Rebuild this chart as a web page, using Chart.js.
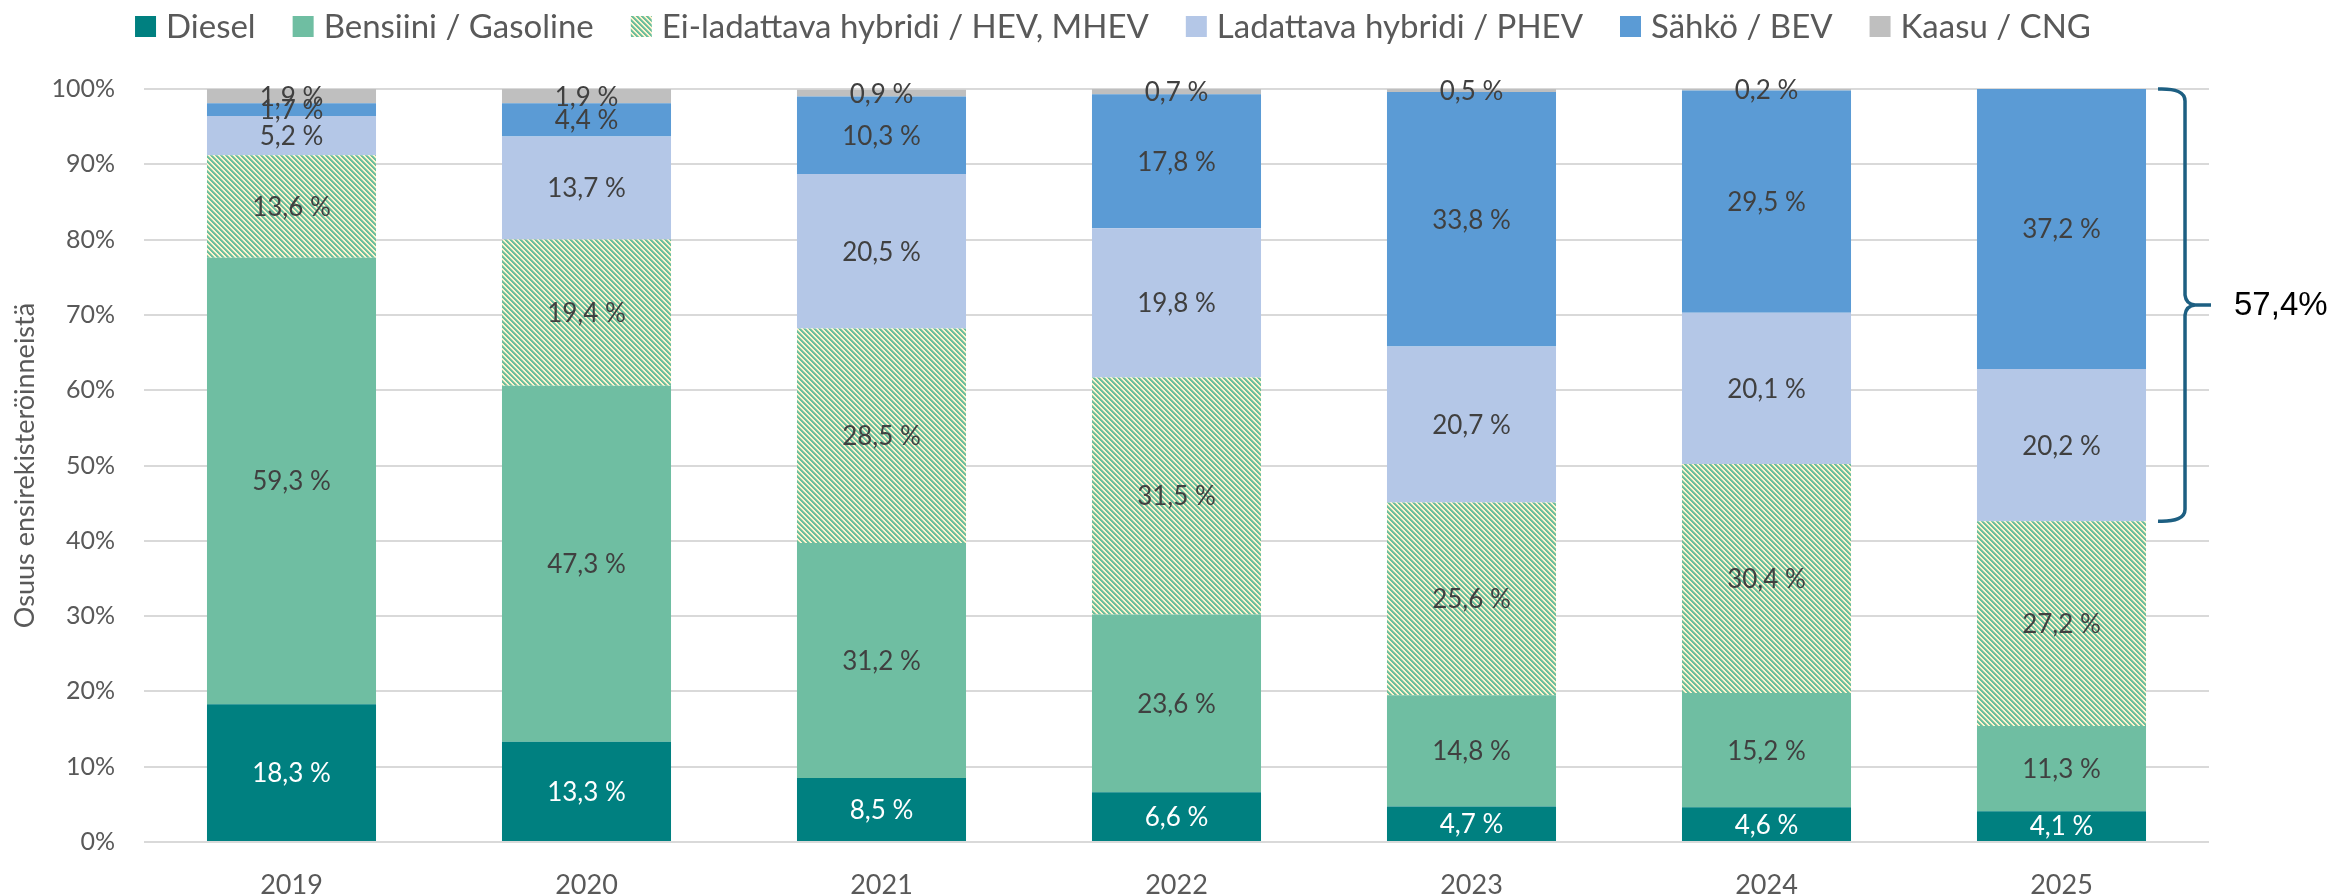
<!DOCTYPE html>
<html>
<head>
<meta charset="utf-8">
<script src="https://cdn.jsdelivr.net/npm/chart.js@4.4.1/dist/chart.umd.min.js"></script>
<style>
  html, body { margin: 0; padding: 0; background: #fff; }
  #wrap { width: 2341px; height: 896px; }
</style>
</head>
<body>
<div id="wrap"><canvas id="chart" width="2341" height="896"></canvas></div>
<script>
// Data
const years = ['2019', '2020', '2021', '2022', '2023', '2024', '2025'];
const diesel = [18.3, 13.3, 8.5, 6.6, 4.7, 4.6, 4.1];
const bensiini = [59.3, 47.3, 31.2, 23.6, 14.8, 15.2, 11.3];
const hev = [13.6, 19.4, 28.5, 31.5, 25.6, 30.4, 27.2];
const phev = [5.2, 13.7, 20.5, 19.8, 20.7, 20.1, 20.2];
const bev = [1.7, 4.4, 10.3, 17.8, 33.8, 29.5, 37.2];
const cng = [1.9, 1.9, 0.9, 0.7, 0.5, 0.2, 0];
const seriesNames = [
    'Diesel',
    'Bensiini / Gasoline',
    'Ei-ladattava hybridi / HEV, MHEV',
    'Ladattava hybridi / PHEV',
    'Sähkö / BEV',
    'Kaasu / CNG'
];
const yAxisTitle = 'Osuus ensirekisteröinneistä';
// bracket on the last year: PHEV + BEV
const bracketShare = phev[phev.length - 1] + bev[bev.length - 1];

Chart.defaults.font.family = 'Lato';

const canvas = document.getElementById('chart');
const ctx = canvas.getContext('2d');

// hatched fill for the non-plug-in hybrids
function makeHatch() {
    const n = 5;
    const tile = document.createElement('canvas');
    tile.width = n;
    tile.height = n;
    const g = tile.getContext('2d');
    g.fillStyle = '#FFF2CC';
    g.fillRect(0, 0, n, n);
    for (let y = 0; y < n; y++) {
        for (let x = 0; x < n; x++) {
            const k = ((x - y) % n + n) % n;
            if (k < 2) {
                g.fillStyle = '#6BBE9C';
                g.fillRect(x, y, 1, 1);
            } else if (k === 2) {
                g.fillStyle = '#8FCDAA';
                g.fillRect(x, y, 1, 1);
            }
        }
    }
    return ctx.createPattern(tile, 'repeat');
}

const colors = ['#008080', '#6FBEA2', makeHatch(), '#B4C7E7', '#5B9BD5', '#BFBFBF'];
const labelColors = ['#FFFFFF', '#404040', '#404040', '#404040', '#404040', '#404040'];
const values = [diesel, bensiini, hev, phev, bev, cng];

function fmt(v) {
    return v.toFixed(1).replace('.', ',');
}

// legend drawn along the top
const topLegend = {
    id: 'topLegend',
    afterDraw(chart) {
        const c = chart.ctx;
        c.save();
        c.font = '33px Lato';
        c.textBaseline = 'middle';
        c.textAlign = 'left';
        const box = 21, gap = 10, spacing = 37;
        const items = chart.data.datasets.map(ds => ({
            text: ds.label,
            fill: ds.backgroundColor,
            w: c.measureText(ds.label).width
        }));
        const total = items.reduce((s, it) => s + box + gap + it.w, 0) + spacing * (items.length - 1);
        let x = 1113 - total / 2;
        items.forEach(it => {
            c.fillStyle = it.fill;
            c.fillRect(x, 16, box, box);
            c.fillStyle = '#595959';
            c.fillText(it.text, x + box + gap, 27);
            x += box + gap + it.w + spacing;
        });
        c.restore();
    }
};

// value labels centred in each segment
const segmentLabels = {
    id: 'segmentLabels',
    afterDatasetsDraw(chart) {
        const c = chart.ctx;
        c.save();
        c.font = '26px Lato';
        c.textAlign = 'center';
        c.textBaseline = 'middle';
        chart.data.datasets.forEach((ds, i) => {
            const meta = chart.getDatasetMeta(i);
            meta.data.forEach((bar, j) => {
                const v = ds.data[j];
                if (!v) return;
                c.fillStyle = labelColors[i];
                c.fillText(fmt(v) + ' %', bar.x, (bar.y + bar.base) / 2 + 1);
            });
        });
        c.restore();
    }
};

// curly bracket over the plug-in share of the last year
const bracket = {
    id: 'bracket',
    afterDatasetsDraw(chart) {
        const c = chart.ctx;
        const yScale = chart.scales.y;
        const last = years.length - 1;
        const bar = chart.getDatasetMeta(0).data[last];
        const top = yScale.getPixelForValue(100);
        const bottom = yScale.getPixelForValue(100 - bracketShare);
        const mid = (top + bottom) / 2;
        const x0 = bar.x + bar.width / 2 + 12;
        const x1 = x0 + 27;
        const x2 = x1 + 26;

        c.save();
        c.strokeStyle = '#1D5F82';
        c.lineWidth = 3.5;
        c.lineJoin = 'round';
        c.beginPath();
        c.moveTo(x0, top);
        c.quadraticCurveTo(x1, top - 1, x1, top + 12);
        c.lineTo(x1, mid - 10);
        c.quadraticCurveTo(x1 + 1, mid - 1, x1 + 10, mid);
        c.lineTo(x2, mid);
        c.moveTo(x1 + 10, mid);
        c.quadraticCurveTo(x1 + 1, mid + 1, x1, mid + 10);
        c.lineTo(x1, bottom - 12);
        c.quadraticCurveTo(x1, bottom + 1, x0, bottom);
        c.stroke();

        c.fillStyle = '#000000';
        c.font = '33px "Liberation Sans", Arial, sans-serif';
        c.textAlign = 'left';
        c.textBaseline = 'middle';
        c.fillText(fmt(bracketShare) + '%', x2 + 23, mid + 1);
        c.restore();
    }
};

new Chart(ctx, {
    type: 'bar',
    data: {
        labels: years,
        datasets: seriesNames.map((name, i) => ({
            label: name,
            data: values[i],
            backgroundColor: colors[i],
            borderWidth: 0,
            categoryPercentage: 1,
            barPercentage: 0.573
        }))
    },
    options: {
        responsive: false,
        animation: false,
        devicePixelRatio: 1,
        layout: {
            padding: { top: 89, left: 0, right: 132, bottom: 0 }
        },
        scales: {
            x: {
                stacked: true,
                grid: { display: false },
                border: { display: false },
                ticks: {
                    color: '#595959',
                    font: { size: 27 },
                    padding: 19
                },
                afterFit(scale) { scale.height = 54; }
            },
            y: {
                stacked: true,
                min: 0,
                max: 100,
                grid: {
                    color: '#D9D9D9',
                    lineWidth: 2,
                    drawTicks: false
                },
                border: { display: false },
                ticks: {
                    stepSize: 10,
                    color: '#595959',
                    font: { size: 25 },
                    padding: 29,
                    callback: v => v + '%'
                },
                title: {
                    display: true,
                    text: yAxisTitle,
                    color: '#595959',
                    font: { size: 27 },
                    padding: { top: 9, bottom: 0 }
                },
                afterFit(scale) { scale.width = 144; }
            }
        },
        plugins: {
            legend: { display: false },
            tooltip: { enabled: false }
        }
    },
    plugins: [topLegend, segmentLabels, bracket]
});
</script>
</body>
</html>
